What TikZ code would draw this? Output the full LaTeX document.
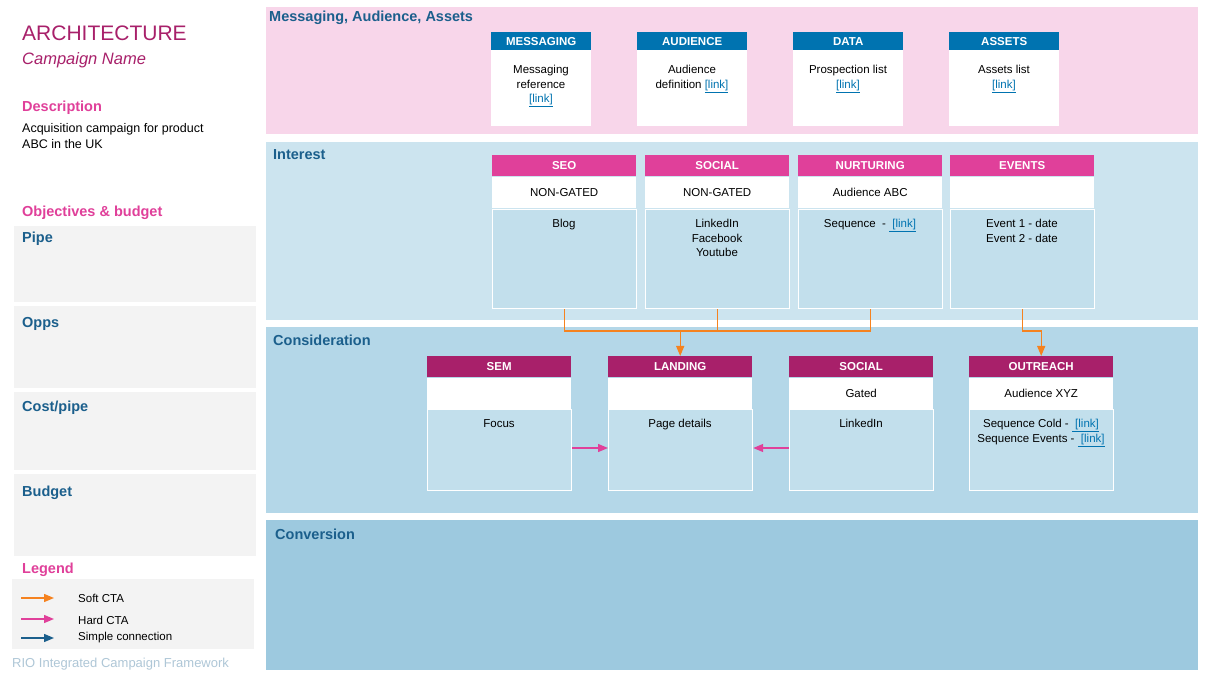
\documentclass[tikz,border=0pt]{standalone}
\usepackage{fontspec}
\setmainfont{Liberation Sans}
\usetikzlibrary{arrows.meta, positioning}
\tikzset{>={Triangle[length=10pt,width=8pt]}}
\definecolor{plum}{HTML}{A8206A}
\definecolor{rose}{HTML}{E0409A}
\definecolor{navy}{HTML}{1B5F8C}
\definecolor{capblue}{HTML}{0073B0}
\definecolor{softorange}{HTML}{F5821F}
\definecolor{bandpink}{HTML}{F8D6EA}
\definecolor{bandone}{HTML}{CCE4EF}
\definecolor{bandtwo}{HTML}{B4D7E8}
\definecolor{bandthree}{HTML}{9DC9DF}
\definecolor{panel}{HTML}{F3F3F3}
\definecolor{cardbody}{HTML}{C2DFEC}
\newcommand{\lnk}[1]{\textcolor{capblue}{\underline{#1}}}

\begin{document}
\begin{tikzpicture}[x=1pt, y=-1pt,
  every node/.style={font=\fontsize{11.5}{14.5}\selectfont, align=center, inner sep=0pt},
  bandtitle/.style={anchor=north west, text=navy, font=\fontsize{14.5}{16}\selectfont\bfseries},
  head/.style={anchor=north west, minimum height=19pt, text=white, font=\fontsize{11.5}{13}\selectfont\bfseries},
  sub/.style={anchor=north west, fill=white, minimum height=31pt},
  body/.style={anchor=north west, draw=white, line width=1.2pt},
  soft/.style={->, softorange, line width=1.3pt},
  hard/.style={->, rose, line width=1.3pt},
  plain/.style={->, navy, line width=1.3pt},
  side/.style={anchor=north west, text=navy, font=\fontsize{14.5}{16}\selectfont\bfseries}
]
\useasboundingbox[fill=white] (0,0) rectangle (1205,676);

% Left column
\node[anchor=west, text=plum, font=\fontsize{21}{23}\selectfont] (arch) at (22,33) {ARCHITECTURE};
\node[anchor=west, text=plum, font=\fontsize{16.5}{18}\selectfont\itshape] (cname) at (22,60) {Campaign Name};
\node[anchor=west, text=rose, font=\fontsize{14.5}{16}\selectfont\bfseries] (desc) at (22,108) {Description};
\node[anchor=north west, align=left, font=\fontsize{12.5}{16}\selectfont] (desctext) at (22,123) {Acquisition campaign for product\\ABC in the UK};
\node[anchor=west, text=rose, font=\fontsize{14.5}{16}\selectfont\bfseries] (objectives) at (22,213) {Objectives \& budget};

\fill[panel] (14,226) rectangle (256,302);
\fill[panel] (14,306) rectangle (256,388);
\fill[panel] (14,392) rectangle (256,470);
\fill[panel] (14,474) rectangle (256,556);
\node[side] (pipe) at (22,232) {Pipe};
\node[side] (opps) at (22,317) {Opps};
\node[side] (cost) at (22,401) {Cost/pipe};
\node[side] (budget) at (22,486) {Budget};

\node[anchor=west, text=rose, font=\fontsize{14.5}{16}\selectfont\bfseries] (legend) at (22,570) {Legend};
\fill[panel] (12,579) rectangle (254,649);
\coordinate (s1) at (21,598); \coordinate (s2) at (54,598);
\coordinate (h1) at (21,619); \coordinate (h2) at (54,619);
\coordinate (p1) at (21,638); \coordinate (p2) at (54,638);
\draw[soft] (s1) -- (s2);
\draw[hard] (h1) -- (h2);
\draw[plain] (p1) -- (p2);
\node[anchor=west] (softlabel) at (78,598) {Soft CTA};
\node[anchor=west] (hardlabel) at (78,620) {Hard CTA};
\node[anchor=west] (plainlabel) at (78,638) {Simple connection};
\node[anchor=west, text=navy!35, font=\fontsize{13}{15}\selectfont] (footer) at (12,664) {RIO Integrated Campaign Framework};

% Bands
\fill[bandpink] (266,7) rectangle (1198,134);
\fill[bandone] (266,142) rectangle (1198,320);
\fill[bandtwo] (266,327) rectangle (1198,513);
\fill[bandthree] (266,520) rectangle (1198,670);
\node[bandtitle] (tmsg) at (269,11) {Messaging, Audience, Assets};
\node[bandtitle] (tint) at (273,149) {Interest};
\node[bandtitle] (tcons) at (273,335) {Consideration};
\node[bandtitle] (tconv) at (275,529) {Conversion};

% Messaging, Audience, Assets
\foreach \name/\x/\w/\title/\txt in {
  msg/491/100/MESSAGING/{Messaging\\reference\\\lnk{[link]}},
  aud/637/110/AUDIENCE/{Audience\\definition \lnk{[link]}},
  data/793/110/DATA/{Prospection list\\\lnk{[link]}},
  assets/949/110/ASSETS/{Assets list\\\lnk{[link]}}} {
  \node[head, fill=capblue, minimum width=\w pt] (\name) at (\x,32) {\title};
  \fill[white] (\x,50) rectangle ++(\w,76);
  \node[anchor=north] (\name-txt) at (\x+\w/2,65) {\txt};
}

% Interest
\foreach \name/\x/\title/\gate/\txt in {
  seo/492/SEO/NON-GATED/Blog,
  social/645/SOCIAL/NON-GATED/{LinkedIn\\Facebook\\Youtube},
  nurt/798/NURTURING/Audience ABC/{Sequence \ - \lnk{\ [link]}},
  events/950/EVENTS/{}/{Event 1 - date\\Event 2 - date}} {
  \node[head, fill=rose, minimum width=144pt, minimum height=21pt] (\name) at (\x,155) {\title};
  \node[sub, minimum width=144pt] (\name-sub) at (\x,177) {\gate};
  \node[body, fill=cardbody, minimum width=144pt, minimum height=99pt] (\name-body) at (\x,209) {};
  \node[anchor=north] (\name-txt) at (\x+72,219) {\txt};
}

% Consideration
\foreach \name/\x/\title/\gate/\txt in {
  sem/427/SEM/{}/Focus,
  landing/608/LANDING/{}/Page details,
  gsocial/789/SOCIAL/Gated/LinkedIn,
  outreach/969/OUTREACH/Audience XYZ/{Sequence Cold - \lnk{\ [link]}\\Sequence Events - \lnk{\ [link]}}} {
  \node[head, fill=plum, minimum width=144pt, minimum height=21pt] (\name) at (\x,356) {\title};
  \node[sub, minimum width=144pt] (\name-sub) at (\x,378) {\gate};
  \node[body, fill=cardbody, minimum width=144pt, minimum height=81pt] (\name-body) at (\x,409) {};
  \node[anchor=north] (\name-txt) at (\x+72,419) {\txt};
}

% Connectors
\coordinate (join) at (landing.north |- 0,331);
\draw[softorange, line width=1.3pt] (seo-body.south) |- (nurt-body.south |- join) -- (nurt-body.south);
\draw[softorange, line width=1.3pt] (social-body.south) -- (social-body.south |- join);
\draw[soft] (join) -- (landing.north);
\draw[soft] (events-body.south) |- (outreach.north |- join) -- (outreach.north);
\draw[hard] (sem-body.east |- 0,448) -- (landing-body.west |- 0,448);
\draw[hard] (gsocial-body.west |- 0,448) -- (landing-body.east |- 0,448);

\end{tikzpicture}
\end{document}
